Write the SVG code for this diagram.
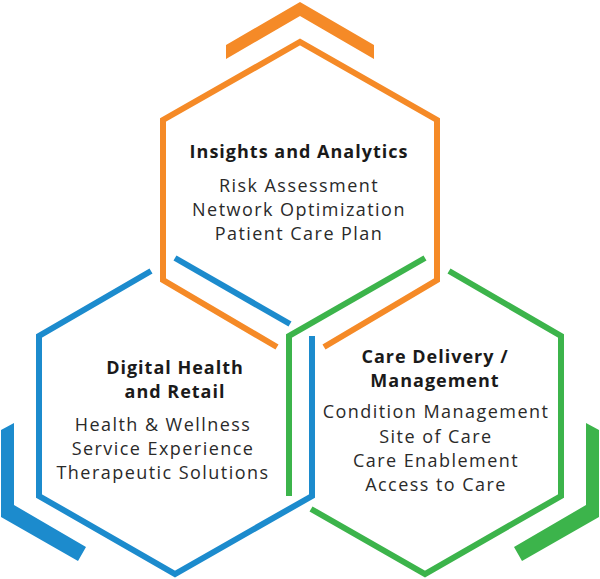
<svg xmlns="http://www.w3.org/2000/svg" width="600" height="579" viewBox="0 0 600 579">
<style>
.o{stroke:#F58A27}.b{stroke:#1C8BCD}.g{stroke:#3CB44B}
.ln{fill:none;stroke-width:6;stroke-linejoin:miter;stroke-linecap:butt}
.t{font-family:"Open Sans","Liberation Sans",sans-serif;font-size:18px;letter-spacing:1.45px;fill:#2a2a2a;text-anchor:middle}
.h{font-weight:bold;font-size:18px;letter-spacing:1px;fill:#1a1a1a}
</style>
<rect width="600" height="579" fill="#fff"/>
<g id="insights">
<polygon points="226,45 300,2 374,45 374,59 300,16 226,59" fill="#F58A27"/>
<path class="ln o" d="M277,347 L163,280 L163,120 L300,42 L437,120 L437,280 L324,347"/>
<text class="t h" x="299" y="158">Insights and Analytics</text>
<text class="t" x="299" y="192">Risk Assessment</text>
<text class="t" x="299" y="216">Network Optimization</text>
<text class="t" x="299" y="240">Patient Care Plan</text>
</g>
<g id="digital">
<polygon points="1,430 14,423 14,505 86,547 78,561 1,517" fill="#1C8BCD"/>
<path class="ln b" d="M151,271 L39,336 L39,496 L175,574 L312,496 L312,336"/>
<path class="ln b" d="M175,258 L290,324"/>
<text class="t h" x="175" y="374">Digital Health</text>
<text class="t h" x="175" y="398">and Retail</text>
<text class="t" x="163" y="431">Health &amp; Wellness</text>
<text class="t" x="163" y="455">Service Experience</text>
<text class="t" x="163" y="479">Therapeutic Solutions</text>
</g>
<g id="care">
<polygon points="599,430 586,423 586,505 514,547 522,561 599,517" fill="#3CB44B"/>
<path class="ln g" d="M425,258 L289,336 L289,496"/>
<path class="ln g" d="M449,271 L561,336 L561,496 L425,574 L311,509"/>
<text class="t h" x="435" y="363">Care Delivery /</text>
<text class="t h" x="435" y="387">Management</text>
<text class="t" x="436" y="418">Condition Management</text>
<text class="t" x="436" y="443">Site of Care</text>
<text class="t" x="436" y="467">Care Enablement</text>
<text class="t" x="436" y="491">Access to Care</text>
</g>
<g id="connectors"></g>
</svg>
